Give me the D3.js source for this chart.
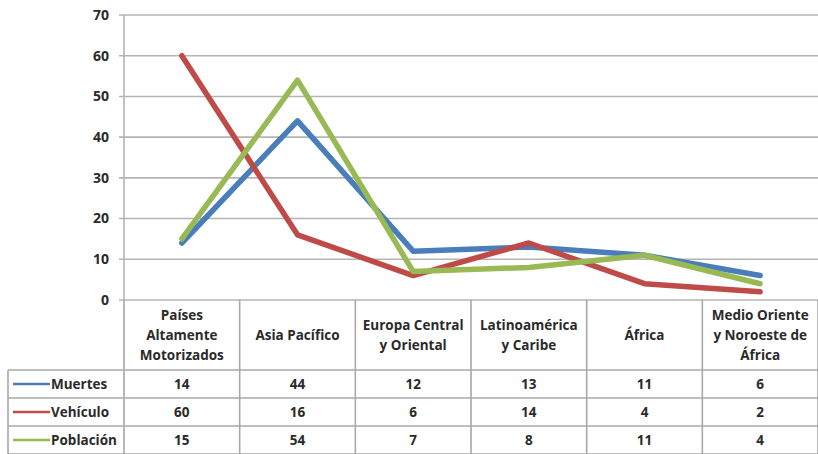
<!DOCTYPE html>
<html>
<head>
<meta charset="utf-8">
<script src="https://cdn.jsdelivr.net/npm/d3@7"></script>
<style>
  body { margin: 0; background: #fff; }
  svg { display: block; font-family: 'Open Sans', sans-serif; font-weight: bold; }
</style>
</head>
<body>
<svg id="chart" width="818" height="454"></svg>
<script>
// Data
const categories = [
  ['Países', 'Altamente', 'Motorizados'],
  ['Asia Pacífico'],
  ['Europa Central', 'y Oriental'],
  ['Latinoamérica', 'y Caribe'],
  ['África'],
  ['Medio Oriente', 'y Noroeste de', 'África']
]
const series_names = ['Muertes', 'Vehículo', 'Población']
const muertes = [14, 44, 12, 13, 11, 6]
const vehiculo = [60, 16, 6, 14, 4, 2]
const poblacion = [15, 54, 7, 8, 11, 4]
const y_ticks = [0, 10, 20, 30, 40, 50, 60, 70]

const series_colors = ['#4a7ebb', '#be4b48', '#98b954']
const series_values = [muertes, vehiculo, poblacion]

const W = 818, H = 454
const plot = { left: 124, right: 818, top: 15, bottom: 300 }
const grid_color = '#b4b4b4'
const table_color = '#a8a8a8'
const text_color = '#2a2a2a'
const table_font = '13.5px'

const svg = d3.select('#chart')

let x = d3.scaleBand()
  .domain(d3.range(categories.length))
  .range([plot.left, plot.right])

let y = d3.scaleLinear()
  .domain([0, 70])
  .range([plot.bottom, plot.top])

// Gridlines + ticks
svg.append('g')
  .selectAll('line')
  .data(y_ticks)
  .join('line')
  .attr('x1', plot.left - 5)
  .attr('x2', plot.right)
  .attr('y1', d => y(d))
  .attr('y2', d => y(d))
  .style('stroke', grid_color)
  .style('stroke-width', 1.6)

// Y labels
svg.append('g')
  .selectAll('text')
  .data(y_ticks)
  .join('text')
  .attr('x', 109)
  .attr('y', d => y(d))
  .attr('dy', '0.35em')
  .attr('text-anchor', 'end')
  .style('font-size', '14px')
  .style('fill', text_color)
  .text(d => d)

// Y axis line
svg.append('line')
  .attr('x1', plot.left).attr('x2', plot.left)
  .attr('y1', plot.top).attr('y2', plot.bottom)
  .style('stroke', grid_color)
  .style('stroke-width', 1.6)

// Lines
let line = d3.line()
  .x((d, i) => x(i) + x.bandwidth() / 2)
  .y(d => y(d))

svg.append('g')
  .selectAll('path')
  .data(series_values)
  .join('path')
  .attr('d', d => line(d))
  .style('fill', 'none')
  .style('stroke', (d, i) => series_colors[i])
  .style('stroke-width', 5.5)
  .style('stroke-linejoin', 'round')
  .style('stroke-linecap', 'round')

// Data table
const header_bottom = 370
const row_h = 28
const table_left = 8
let row_top = i => header_bottom + i * row_h

let table = svg.append('g')

// vertical column lines
table.selectAll('line.col')
  .data(d3.range(categories.length + 1))
  .join('line')
  .attr('class', 'col')
  .attr('x1', i => i < categories.length ? x(i) : plot.right)
  .attr('x2', i => i < categories.length ? x(i) : plot.right)
  .attr('y1', plot.bottom)
  .attr('y2', H)
  .style('stroke', table_color)
  .style('stroke-width', 1.6)

// left border of legend column
table.append('line')
  .attr('x1', table_left).attr('x2', table_left)
  .attr('y1', header_bottom).attr('y2', H)
  .style('stroke', table_color)
  .style('stroke-width', 1.6)

// horizontal row lines
table.selectAll('line.row')
  .data(d3.range(series_names.length + 1))
  .join('line')
  .attr('class', 'row')
  .attr('x1', table_left)
  .attr('x2', plot.right)
  .attr('y1', i => row_top(i))
  .attr('y2', i => row_top(i))
  .style('stroke', table_color)
  .style('stroke-width', 1.6)

// category headers
let header_mid = (plot.bottom + header_bottom) / 2
categories.forEach((lines, i) => {
  let t = table.append('text')
    .attr('text-anchor', 'middle')
    .style('font-size', table_font)
    .style('fill', text_color)
  lines.forEach((s, k) => {
    t.append('tspan')
      .attr('x', x(i) + x.bandwidth() / 2)
      .attr('y', header_mid + (k - (lines.length - 1) / 2) * 20)
      .attr('dy', '0.35em')
      .text(s)
  })
})

// legend keys + labels
series_names.forEach((name, r) => {
  let cy = row_top(r) + row_h / 2
  table.append('line')
    .attr('x1', 13).attr('x2', 50)
    .attr('y1', cy).attr('y2', cy)
    .style('stroke', series_colors[r])
    .style('stroke-width', 2.5)
  table.append('text')
    .attr('x', 51)
    .attr('y', cy)
    .attr('dy', '0.35em')
    .style('font-size', table_font)
    .style('fill', text_color)
    .text(name)

  series_values[r].forEach((v, i) => {
    table.append('text')
      .attr('x', x(i) + x.bandwidth() / 2)
      .attr('y', cy)
      .attr('dy', '0.35em')
      .attr('text-anchor', 'middle')
      .style('font-size', table_font)
      .style('fill', text_color)
      .text(v)
  })
})
</script>
</body>
</html>
